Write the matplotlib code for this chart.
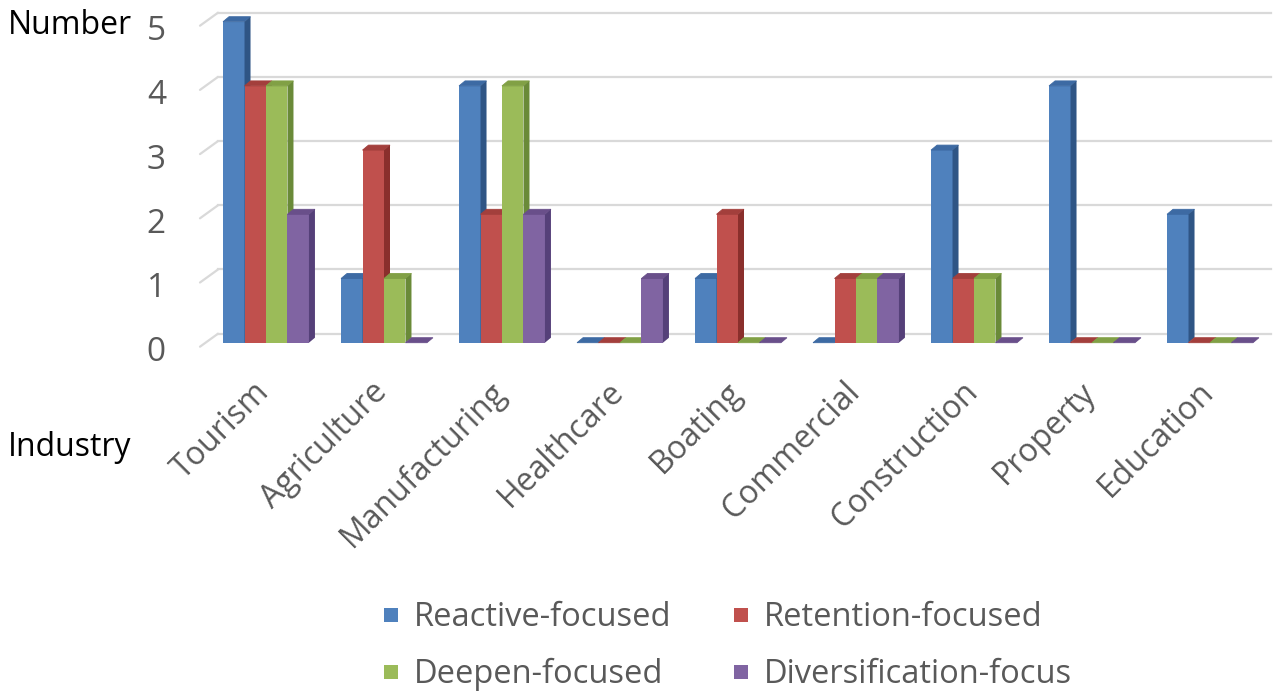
import matplotlib.pyplot as plt
from matplotlib.patches import Polygon, Rectangle
import numpy as np

plt.rcParams['font.family'] = ['Open Sans', 'DejaVu Sans']

industries = ['Tourism', 'Agriculture', 'Manufacturing', 'Healthcare', 'Boating',
              'Commercial', 'Construction', 'Property', 'Education']
series = ['Reactive-focused', 'Retention-focused', 'Deepen-focused', 'Diversification-focus']
reactive = [5, 1, 4, 0, 1, 0, 3, 4, 2]
retention = [4, 3, 2, 0, 2, 1, 1, 0, 0]
deepen = [4, 1, 4, 0, 0, 1, 1, 0, 0]
diversification = [2, 0, 2, 1, 0, 1, 0, 0, 0]
yticks = [0, 1, 2, 3, 4, 5]

values = [reactive, retention, deepen, diversification]
colors = ['#4f81bd', '#c0504d', '#9bbb59', '#8064a2']
tops = ['#3d6aa3', '#a33f3c', '#81a045', '#694f8a']
sides = ['#2f5585', '#8a2f2c', '#6a8a38', '#554079']
GRAY = '#595959'

W, H = 1277, 696
# pixel geometry of the plot: category i at x0 + dx*i, value v at y0 - dy*v (px from top)
x0, dxp = 266.0, 118.0
y0, dyp = 342.7, 64.2

fig = plt.figure(figsize=(W / 100, H / 100), dpi=100)
ax = fig.add_axes([0, 0, 1, 1])
ax.set_xlim(-x0 / dxp, (W - x0) / dxp)
ax.set_ylim((y0 - H) / dyp, y0 / dyp)
ax.axis('off')

px = 1 / dxp
py = 1 / dyp

# back wall gridlines
for v in yticks:
    gy = v + 9 * py
    ax.plot([-66 * px, -48 * px], [gy - 13 * py, gy], color='#d9d9d9', lw=1.6,
            solid_capstyle='round', zorder=1)
    ax.plot([-48 * px, (W - 6 - x0) * px], [gy, gy], color='#d9d9d9', lw=1.6, zorder=1)
    ax.text(-100 * px, v - 10 * py, str(v), ha='right', va='center', fontsize=24, color=GRAY)

bw = 0.182
ddx, ddy = 6 * px, 5 * py
z = 2
for i in range(len(industries)):
    left0 = i - 2 * bw
    for k in range(4):
        v = values[k][i]
        l = left0 + k * bw
        r = l + bw
        if v > 0:
            ax.add_patch(Rectangle((l, 0), bw, v, facecolor=colors[k], edgecolor='none', zorder=z))
        ax.add_patch(Polygon([(l, v), (r, v), (r + ddx, v + ddy), (l + ddx, v + ddy)],
                             closed=True, facecolor=tops[k], edgecolor=tops[k], lw=0.6, zorder=z))
        if v > 0:
            ax.add_patch(Polygon([(r, 0), (r + ddx, ddy), (r + ddx, v + ddy), (r, v)],
                                 closed=True, facecolor=sides[k], edgecolor='none', zorder=z))
        z += 1
    ax.text(i - 0.11, -33 * py, industries[i], rotation=45, rotation_mode='anchor',
            ha='right', va='top', fontsize=23, color=GRAY)

fig.text(8 / W, 1 - 25 / H, 'Number', ha='left', va='center', fontsize=23, color='black')
fig.text(8 / W, 1 - 447 / H, 'Industry', ha='left', va='center', fontsize=23, color='black')

# legend (square centre y, text baseline y)
leg_pos = [(384, 615, 626), (734, 615, 626), (384, 672, 683), (734, 672, 683)]
for k, name in enumerate(series):
    lx, ly, lb = leg_pos[k]
    fig.patches.append(Rectangle((lx / W, 1 - (ly + 7) / H), 14 / W, 14 / H,
                                 transform=fig.transFigure, facecolor=colors[k],
                                 edgecolor='none'))
    fig.text((lx + 30) / W, 1 - lb / H, name, ha='left', va='baseline', fontsize=23.5, color=GRAY)

fig.savefig('out.png', dpi=100)
